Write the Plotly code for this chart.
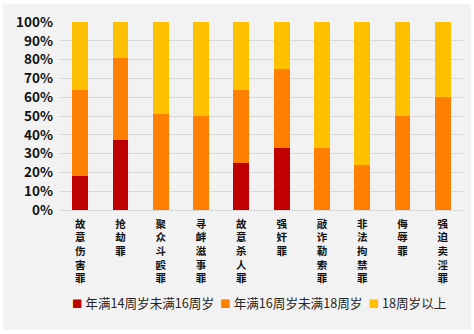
import plotly.graph_objects as go

categories = ["故意伤害罪", "抢劫罪", "聚众斗殴罪", "寻衅滋事罪", "故意杀人罪",
              "强奸罪", "敲诈勒索罪", "非法拘禁罪", "侮辱罪", "强迫卖淫罪"]
series_names = ["年满14周岁未满16周岁", "年满16周岁未满18周岁", "18周岁以上"]
age_14_16 = [18, 37, 0, 0, 25, 33, 0, 0, 0, 0]
age_16_18 = [46, 44, 51, 50, 39, 42, 33, 24, 50, 60]
age_18_up = [36, 19, 49, 50, 36, 25, 67, 76, 50, 40]
colors = ["#C00000", "#FF8000", "#FFC000"]
y_ticks = [0, 10, 20, 30, 40, 50, 60, 70, 80, 90, 100]
y_tick_labels = [f"{v}%" for v in y_ticks]

W, H = 474, 334
ML, MR, MT, MB = 60, 11, 20, 124
pw, ph = W - ML - MR, H - MT - MB

fig = go.Figure()
for name, vals, col in zip(series_names, [age_14_16, age_16_18, age_18_up], colors):
    fig.add_trace(go.Bar(x=categories, y=vals, name=name, marker_color=col,
                         marker_line_width=0, showlegend=False))

vertical = ["<br>".join(list(c)) for c in categories]

# gray panel background (inset from page edge)
fig.add_shape(type="rect", xref="paper", yref="paper",
              x0=(3 - ML) / pw, x1=(471 - ML) / pw,
              y0=-(331 - MT - ph) / ph, y1=1 + (MT - 2) / ph,
              fillcolor="#F2F2F2", line_width=0, layer="below")

# compact one-row legend (coloured squares + series names)
legend_text = "\u2002".join(
    f"<span style='color:{c};font-size:10.5px'>■</span> {n}"
    for n, c in zip(series_names, colors)
)
fig.add_annotation(text=legend_text, xref="paper", yref="paper",
                   x=(258.5 - ML) / pw, y=-((303 - MT) - ph) / ph,
                   xanchor="center", yanchor="middle",
                   showarrow=False, font=dict(size=12.6, color="#262626",
                                              family="Noto Sans CJK SC"))

fig.update_layout(
    width=W, height=H,
    barmode="stack", bargap=0.61,
    margin=dict(l=ML, r=MR, t=MT, b=MB),
    paper_bgcolor="white", plot_bgcolor="rgba(0,0,0,0)",
    font=dict(family="Noto Sans CJK SC", color="#1a1a1a"),
    xaxis=dict(tickmode="array", tickvals=categories, ticktext=vertical,
               tickfont=dict(size=10.5, family="Noto Sans CJK SC", weight="bold", color="#111"),
               showgrid=False, showline=True, linecolor="#D9D9D9", linewidth=1,
               ticks="", tickangle=0, ticklabelstandoff=4),
    yaxis=dict(range=[0, 100], tickvals=y_ticks, ticktext=y_tick_labels,
               tickfont=dict(size=13.5, family="Noto Sans CJK SC", weight="bold", color="#111"),
               showgrid=True, gridcolor="#D9D9D9", gridwidth=1, zeroline=False,
               ticks="", ticklabelstandoff=6),
    showlegend=False,
)

fig.write_html("out.html")
